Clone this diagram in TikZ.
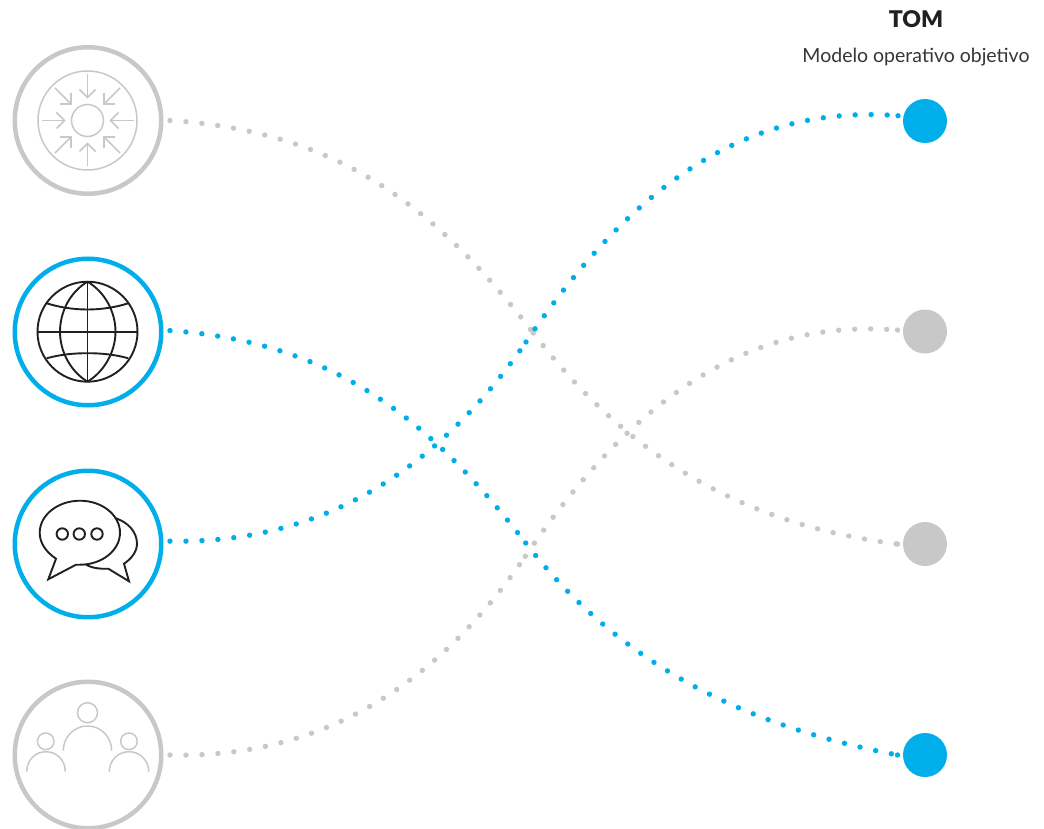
\documentclass[tikz,border=0pt]{standalone}
\usepackage{fontspec}
\setmainfont{Lato}
\newfontfamily\tomfont{Lato Black}
\usetikzlibrary{calc}
\definecolor{tomblue}{HTML}{00AEEA}
\definecolor{tomgrey}{HTML}{C8C8C9}
\definecolor{iconink}{HTML}{231F20}
\tikzset{
  ring/.style={circle,draw=#1,line width=4.5pt,minimum size=146.5pt,inner sep=0pt,outer sep=8.75pt},
  endpt/.style={circle,fill=#1,minimum size=44pt,inner sep=0pt,outer sep=5.5pt},
  dotted link/.style={draw=#1,line width=5.4pt,line cap=round,dash pattern=on 0pt off 16pt},
  ghost/.style={draw=tomgrey,line width=1.5pt},
  ink/.style={draw=iconink,line width=1.9pt},
}
\begin{document}
\begin{tikzpicture}[x=1pt,y=-1pt]
\useasboundingbox (0,0) rectangle (1044,829);
\node[ring=tomgrey] (l1) at (88,120.5) {};
\node[ring=tomblue] (l2) at (88,332) {};
\node[ring=tomblue] (l3) at (88,544) {};
\node[ring=tomgrey] (l4) at (88,755) {};
\node[endpt=tomblue] (r1) at (925,121) {};
\node[endpt=tomgrey] (r2) at (925,331.5) {};
\node[endpt=tomgrey] (r3) at (925,544) {};
\node[endpt=tomblue] (r4) at (925,755) {};
\coordinate (j1) at (533.3,333);
\coordinate (j2) at (525.7,543);
\coordinate (j3) at (526,342);
\coordinate (j4) at (525.3,556.3);
% connectors: each runs in two halves that meet at a junction
\draw[dotted link=tomgrey] (l1.east) .. controls (335,131) and (433,203) .. (j1);
\draw[dotted link=tomgrey] (j1) .. controls (625,453) and (738,524) .. (r3.west);
\fill[tomgrey] (r3.west) circle[radius=2.7];
\draw[dotted link=tomgrey] (l4.east) .. controls (320,758.6) and (436,687) .. (j4);
\draw[dotted link=tomgrey] (j4) .. controls (625,409.3) and (740,317.3) .. (r2.177.5);
\fill[tomgrey] (r2.177.5) circle[radius=2.7];
\draw[dotted link=tomblue] (l2.1) .. controls (330,342) and (425.7,414) .. (j2);
\draw[dotted link=tomblue] (j2) .. controls (620,665) and (745,726) .. (r4.west);
\fill[tomblue] (r4.west) circle[radius=2.7];
\draw[dotted link=tomblue] (l3.2.4) .. controls (320,544) and (436,472.5) .. (j3);
\draw[dotted link=tomblue] (j3) .. controls (625,195) and (740,103) .. (r1.169.5);
\fill[tomblue] (r1.169.5) circle[radius=2.7];
% texts
\node[text=iconink,font=\fontsize{23}{24}\selectfont\tomfont] (tom) at (916,19) {TOM};
\node[text=iconink!90,font=\fontsize{19.5}{22}\selectfont] (sub) at (916,57) {Modelo operativo objetivo};
% icon 1
\draw[ghost] (87.5,120.5) circle[radius=49.5];
\draw[ghost] (87.5,120.5) circle[radius=16];
\foreach \a in {0,45,...,315}{
  \begin{scope}[shift={(87.5,120.5)},rotate=\a]
    \draw[ghost] (46,0) -- (23,0);
    \draw[ghost] (31,-8) -- (23,0) -- (31,8);
  \end{scope}
}
% icon 2 globe
\draw[ink] (87.5,331.7) circle[radius=50];
\draw[ink] (87.5,281.7) -- (87.5,381.7);
\draw[ink] (37.5,331.7) -- (137.5,331.7);
\draw[ink] (87.5,281.7) .. controls (70,292) and (60,312) .. (60,331.7) .. controls (60,351) and (70,371) .. (87.5,381.7);
\draw[ink] (87.5,281.7) .. controls (105,292) and (115.5,312) .. (115.5,331.7) .. controls (115.5,351) and (105,371) .. (87.5,381.7);
\draw[ink] (46.7,303.3) .. controls (60,307.5) and (74,309.5) .. (87.5,309.5) .. controls (101,309.5) and (115,307.5) .. (128.3,303.3);
\draw[ink] (46.7,358.3) .. controls (60,354.5) and (74,353.2) .. (87.5,353.2) .. controls (101,353.2) and (115,354.5) .. (128.3,358.3);
% icon 3 chat
\draw[ink,line join=miter] (80,564.7) .. controls (102,564.7) and (120,550.4) .. (120,532.7)
  .. controls (120,515) and (102,500.7) .. (80,500.7)
  .. controls (58,500.7) and (39.7,515) .. (39.7,532.7)
  .. controls (39.7,543) and (46,552) .. (56,558.7)
  -- (48.3,579.3) -- (76,564.7) -- cycle;
\draw[ink,line join=miter] (115,518) .. controls (128,522) and (137,532) .. (137,543.7)
  .. controls (137,552) and (131,559) .. (124,563.7)
  -- (129,581.3) -- (108.3,568.7) -- (102,568.7) .. controls (96,568.5) and (90,567) .. (86,564.7);
\foreach \x in {62.3,79.3,97}{\draw[ink] (\x,534) circle[radius=5.7];}
% icon 4 people
\draw[ghost] (87.5,712.7) circle[radius=10];
\draw[ghost] (63.3,750.7) .. controls (63.3,737) and (74,726) .. (87.5,726) .. controls (101,726) and (111.7,737) .. (111.7,750.7);
\draw[ghost] (45.7,741.3) circle[radius=8.3];
\draw[ghost] (26.7,771.7) .. controls (26.7,760.5) and (35,751.7) .. (46,751.7) .. controls (57,751.7) and (65.3,760.5) .. (65.3,771.7);
\draw[ghost] (129,741.3) circle[radius=8.3];
\draw[ghost] (109.3,771.7) .. controls (109.3,760.5) and (118,751.7) .. (129,751.7) .. controls (140,751.7) and (148.7,760.5) .. (148.7,771.7);
\end{tikzpicture}
\end{document}
